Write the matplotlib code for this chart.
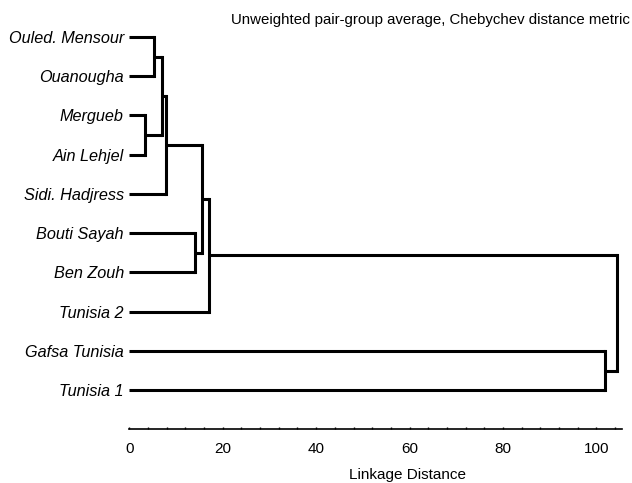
import matplotlib
matplotlib.use("Agg")
from matplotlib import pyplot as plt
from matplotlib.ticker import MultipleLocator

# leaves, top to bottom
labels = ["Ouled. Mensour", "Ouanougha", "Mergueb", "Ain Lehjel", "Sidi. Hadjress",
          "Bouti Sayah", "Ben Zouh", "Tunisia 2", "Gafsa Tunisia", "Tunisia 1"]

# merges: (node a, node b, linkage distance); new nodes numbered from 10 upward
merge_a = [2, 0, 11, 12, 5, 13, 15, 8, 16]
merge_b = [3, 1, 10, 4, 6, 14, 7, 9, 17]
merge_dist = [3.4, 5.35, 6.9, 7.8, 14.1, 15.6, 17.1, 101.9, 104.4]

plt.rcParams['font.family'] = ['Liberation Sans', 'DejaVu Sans']

fig = plt.figure(figsize=(6.32, 4.83), dpi=100)
ax = fig.add_axes([0.2046, 0.1118, 0.779, 0.851])

# node positions: y = leaf row, x = height
ypos = {i: float(i) for i in range(len(labels))}
xpos = {i: 0.0 for i in range(len(labels))}
lw = 2.2
for k, (a, b, d) in enumerate(zip(merge_a, merge_b, merge_dist)):
    node = len(labels) + k
    ax.plot([xpos[a], d], [ypos[a], ypos[a]], color='black', lw=lw, solid_capstyle='butt')
    ax.plot([xpos[b], d], [ypos[b], ypos[b]], color='black', lw=lw, solid_capstyle='butt')
    ax.plot([d, d], [ypos[a], ypos[b]], color='black', lw=lw, solid_capstyle='projecting')
    ypos[node] = (ypos[a] + ypos[b]) / 2
    xpos[node] = d

ax.set_xlim(0, 105.4)
ax.set_ylim(9.99, -0.485)
ax.set_yticks(range(len(labels)))
ax.set_yticklabels(labels, fontstyle='italic', fontsize=11.7)
ax.tick_params(axis='y', length=0, pad=4)

ax.xaxis.set_major_locator(MultipleLocator(20))
ax.xaxis.set_minor_locator(MultipleLocator(4))
ax.tick_params(axis='x', which='major', direction='in', length=1.6, width=1, labelsize=11, pad=9)
ax.tick_params(axis='x', which='minor', direction='in', length=1.4, width=1)

for s in ['top', 'right', 'left']:
    ax.spines[s].set_visible(False)
ax.spines['bottom'].set_linewidth(1.2)

ax.set_xlabel("Linkage Distance", fontsize=11)
ax.xaxis.set_label_coords((408 - 129.3) / 492.4, -39 / 411)

fig.text(0.997, 1 - 20 / 483, "Unweighted pair-group average, Chebychev distance metric",
         ha='right', va='center', fontsize=10.8)

fig.savefig("out.png", dpi=100)
